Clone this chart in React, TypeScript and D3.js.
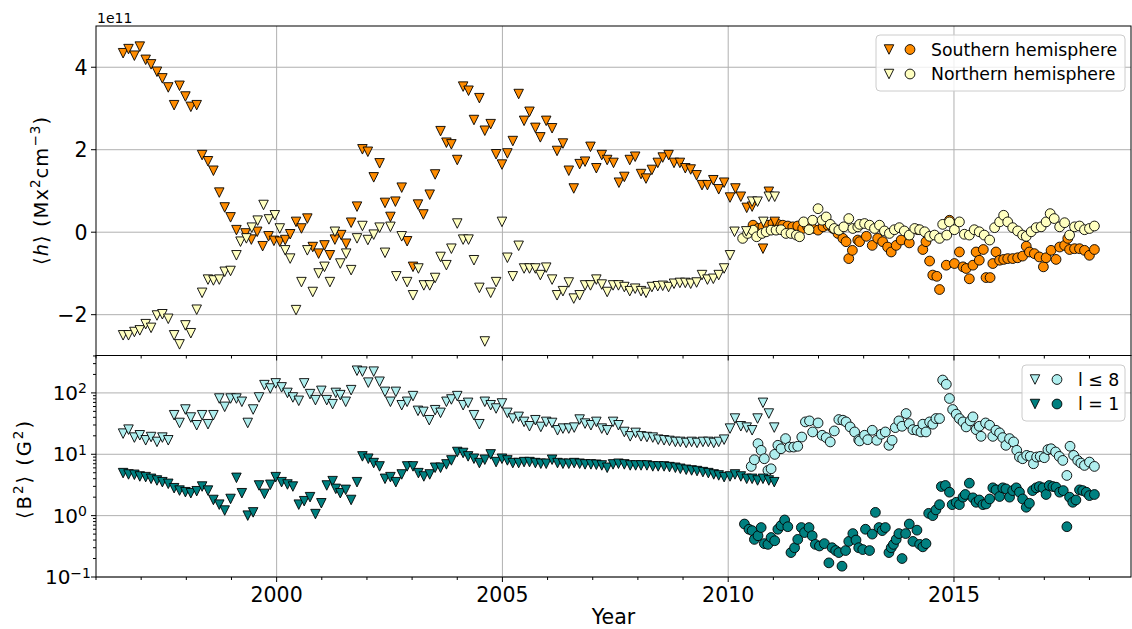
import React from "react";
import * as d3 from "d3";

// top panel: helicity (units of 1e11), bottom panel: B^2 (G^2)
const southTri: [number, number][] = [
  [1996.6, 4.34], [1996.72, 4.44], [1996.85, 4.28], [1996.97, 4.5], [1997.1, 4.18], [1997.22, 4.07],
  [1997.35, 3.89], [1997.47, 3.73], [1997.6, 3.51], [1997.73, 3.08], [1997.85, 3.55], [1997.98, 3.29],
  [1998.1, 3.04], [1998.23, 3.08], [1998.35, 1.87], [1998.48, 1.72], [1998.6, 1.49], [1998.73, 0.96],
  [1998.85, 0.6], [1998.98, 0.36], [1999.11, 0.05], [1999.31, -0.03], [1999.44, -0.18], [1999.57, 0.01],
  [1999.69, -0.34], [1999.82, -0.1], [1999.94, -0.21], [2000.07, -0.23], [2000.19, -0.19], [2000.3, -0.05],
  [2000.43, 0.25], [2000.55, 0.09], [2000.68, 0.33], [2000.8, -0.36], [2000.93, -0.52], [2001.06, -0.32],
  [2001.18, -0.56], [2001.29, -0.18], [2001.43, -0.07], [2001.54, -0.28], [2001.65, 0.23], [2001.78, 0.62],
  [2001.9, 2.01], [2002.02, 1.95], [2002.15, 1.33], [2002.28, 1.67], [2002.4, 0.71], [2002.52, 0.37],
  [2002.63, 0.74], [2002.77, 1.08], [2002.89, -0.22], [2003.02, -0.84], [2003.13, 0.67], [2003.25, 0.43],
  [2003.39, 0.91], [2003.51, 1.4], [2003.63, 2.45], [2003.76, 2.17], [2003.87, 2.13], [2004.0, 1.75],
  [2004.13, 3.53], [2004.25, 3.43], [2004.37, 2.72], [2004.49, 3.25], [2004.61, 2.46], [2004.74, 2.62],
  [2004.86, 1.89], [2004.99, 1.64], [2005.11, 1.91], [2005.23, 2.21], [2005.36, 3.35], [2005.48, 2.7],
  [2005.6, 2.92], [2005.73, 2.53], [2005.84, 2.3], [2005.97, 2.7], [2006.1, 2.52], [2006.21, 1.97],
  [2006.34, 2.15], [2006.47, 1.49], [2006.58, 1.06], [2006.71, 1.65], [2006.83, 1.71], [2006.95, 2.07],
  [2007.08, 1.55], [2007.2, 1.87], [2007.32, 1.75], [2007.46, 1.68], [2007.58, 1.2], [2007.7, 1.34],
  [2007.82, 1.75], [2007.94, 1.83], [2008.07, 1.41], [2008.18, 1.3], [2008.31, 1.51], [2008.44, 1.68],
  [2008.55, 1.81], [2008.68, 1.87], [2008.8, 1.68], [2008.93, 1.68], [2009.05, 1.55], [2009.17, 1.52],
  [2009.3, 1.38], [2009.42, 1.14], [2009.54, 1.14], [2009.67, 1.26], [2009.79, 1.04], [2009.91, 1.2],
  [2010.04, 0.84], [2010.16, 1.06], [2010.28, 0.86], [2010.41, 0.59], [2010.53, 0.62], [2010.77, -0.4],
  [2010.9, 0.98], [2011.03, 0.25],
];

const northTri: [number, number][] = [
  [1996.6, -2.5], [1996.72, -2.5], [1996.85, -2.42], [1996.97, -2.38], [1997.1, -2.23], [1997.22, -2.32],
  [1997.35, -2.02], [1997.47, -1.99], [1997.6, -2.1], [1997.73, -2.5], [1997.85, -2.72], [1997.98, -2.26],
  [1998.1, -2.45], [1998.23, -1.88], [1998.35, -1.47], [1998.48, -1.15], [1998.6, -1.17], [1998.73, -1.15],
  [1998.85, -0.96], [1998.98, -0.94], [1999.11, -0.56], [1999.2, -0.23], [1999.33, -0.15], [1999.45, 0.11],
  [1999.58, 0.28], [1999.71, 0.66], [1999.83, 0.31], [1999.96, 0.41], [2000.07, 0.09], [2000.19, -0.44],
  [2000.3, -0.64], [2000.43, -1.89], [2000.55, -1.21], [2000.68, -0.44], [2000.8, -1.45], [2000.93, -1.0],
  [2001.06, -0.84], [2001.18, -1.21], [2001.29, 0.01], [2001.41, -0.76], [2001.54, -0.52], [2001.65, -0.92],
  [2001.78, -0.15], [2001.9, 0.15], [2002.02, -0.19], [2002.15, -0.06], [2002.28, 0.11], [2002.4, -0.5],
  [2002.52, 0.13], [2002.65, -1.07], [2002.77, -0.1], [2002.89, -1.21], [2003.02, -1.53], [2003.14, -0.88],
  [2003.26, -1.29], [2003.39, -1.29], [2003.51, -1.11], [2003.63, -0.6], [2003.76, -0.8], [2003.87, -0.4],
  [2004.0, 0.21], [2004.13, -0.18], [2004.25, -0.18], [2004.37, -0.68], [2004.49, -1.35], [2004.61, -2.65],
  [2004.74, -1.47], [2004.86, -1.21], [2004.99, 0.25], [2005.11, -0.62], [2005.23, -1.07], [2005.36, -0.33],
  [2005.48, -0.88], [2005.6, -0.88], [2005.73, -0.88], [2005.84, -1.04], [2005.97, -0.86], [2006.1, -1.15],
  [2006.21, -1.53], [2006.34, -1.43], [2006.47, -1.22], [2006.58, -1.61], [2006.71, -1.53], [2006.83, -1.29],
  [2006.95, -1.29], [2007.08, -1.15], [2007.2, -1.27], [2007.32, -1.45], [2007.45, -1.29], [2007.57, -1.29],
  [2007.7, -1.33], [2007.82, -1.43], [2007.94, -1.37], [2008.07, -1.43], [2008.18, -1.47], [2008.31, -1.33],
  [2008.44, -1.31], [2008.55, -1.3], [2008.68, -1.33], [2008.8, -1.25], [2008.93, -1.23], [2009.05, -1.23],
  [2009.17, -1.25], [2009.3, -1.22], [2009.42, -1.04], [2009.54, -1.15], [2009.67, -1.13], [2009.79, -1.04],
  [2009.91, -0.88], [2010.04, -0.56], [2010.14, 0.01], [2010.4, 0.02], [2010.53, 0.74], [2010.65, 0.74],
  [2010.78, 0.25], [2010.9, 0.86], [2011.03, 0.86],
];

const southCirc: [number, number][] = [
  [2010.55, 0.17], [2010.66, 0.09], [2010.77, 0.13], [2010.88, 0.17], [2010.99, 0.21], [2011.1, 0.19],
  [2011.21, 0.17], [2011.32, 0.15], [2011.43, 0.13], [2011.54, 0.15], [2011.65, 0.09], [2011.76, 0.13],
  [2011.87, 0.09], [2011.99, 0.05], [2012.1, 0.13], [2012.21, 0.17], [2012.32, 0.09], [2012.43, -0.03],
  [2012.54, -0.15], [2012.61, -0.23], [2012.67, -0.64], [2012.75, -0.44], [2012.87, -0.19], [2012.91, -0.23],
  [2013.06, -0.1], [2013.19, -0.32], [2013.31, -0.15], [2013.42, -0.23], [2013.53, -0.36], [2013.61, -0.48],
  [2013.72, -0.32], [2013.83, -0.19], [2014.01, -0.26], [2014.2, 0.06], [2014.31, -0.42], [2014.38, -0.23],
  [2014.46, -0.7], [2014.53, -1.04], [2014.62, -1.07], [2014.68, -1.39], [2014.83, -0.8], [2014.9, 0.29],
  [2015.01, -0.76], [2015.12, -0.48], [2015.2, -0.84], [2015.27, -0.88], [2015.34, -1.13], [2015.42, -0.8],
  [2015.49, -0.48], [2015.56, -0.68], [2015.65, -0.42], [2015.71, -1.1], [2015.8, -1.1], [2015.86, -0.76],
  [2015.93, -0.48], [2016.01, -0.68], [2016.1, -0.66], [2016.19, -0.64], [2016.3, -0.64], [2016.41, -0.62],
  [2016.52, -0.58], [2016.6, -0.34], [2016.67, -0.48], [2016.78, -0.52], [2016.89, -0.6], [2016.98, -0.84],
  [2017.04, -0.62], [2017.15, -0.44], [2017.26, -0.66], [2017.34, -0.36], [2017.45, -0.32], [2017.52, -0.15],
  [2017.56, -0.42], [2017.67, -0.4], [2017.78, -0.4], [2017.89, -0.44], [2018.0, -0.56], [2018.11, -0.42],
];

const northCirc: [number, number][] = [
  [2010.32, -0.15], [2010.43, -0.03], [2010.55, 0.05], [2010.63, -0.11], [2010.75, -0.03], [2010.84, 0.01],
  [2010.95, 0.05], [2011.06, 0.05], [2011.17, 0.06], [2011.28, -0.03], [2011.39, -0.03], [2011.51, -0.07],
  [2011.58, -0.11], [2011.67, 0.25], [2011.79, 0.06], [2011.87, 0.29], [2011.99, 0.57], [2012.08, 0.29],
  [2012.17, 0.37], [2012.26, 0.19], [2012.35, 0.09], [2012.45, 0.05], [2012.56, 0.13], [2012.67, 0.33],
  [2012.76, 0.09], [2012.87, 0.13], [2012.91, 0.19], [2013.02, 0.21], [2013.13, 0.17], [2013.24, 0.09],
  [2013.35, 0.17], [2013.46, 0.03], [2013.57, -0.03], [2013.68, 0.06], [2013.79, 0.11], [2013.9, 0.03],
  [2014.01, -0.07], [2014.13, 0.09], [2014.24, 0.06], [2014.35, 0.01], [2014.46, -0.1], [2014.57, -0.07],
  [2014.68, -0.15], [2014.75, 0.19], [2014.84, -0.07], [2014.9, 0.25], [2015.01, 0.06], [2015.12, 0.25],
  [2015.23, -0.05], [2015.34, -0.07], [2015.45, 0.06], [2015.56, 0.01], [2015.67, -0.07], [2015.79, -0.19],
  [2015.9, 0.11], [2016.01, 0.25], [2016.1, 0.41], [2016.19, 0.25], [2016.3, 0.11], [2016.41, 0.03],
  [2016.52, -0.07], [2016.6, -0.1], [2016.71, 0.01], [2016.82, 0.11], [2016.93, 0.13], [2017.04, 0.25],
  [2017.13, 0.45], [2017.22, 0.33], [2017.34, 0.13], [2017.45, 0.23], [2017.56, -0.07], [2017.67, 0.13],
  [2017.78, 0.15], [2017.89, 0.06], [2018.0, 0.09], [2018.11, 0.15],
];

const l8Tri: [number, number][] = [
  [1996.6, 21.7], [1996.72, 25.2], [1996.85, 18.7], [1996.97, 20.4], [1997.1, 16.9], [1997.22, 19.1],
  [1997.35, 15.9], [1997.47, 18.7], [1997.6, 16.9], [1997.73, 43.3], [1997.85, 32.4], [1997.98, 53.6],
  [1998.1, 39.7], [1998.23, 29.7], [1998.35, 43.3], [1998.48, 30.9], [1998.6, 43.3], [1998.73, 81],
  [1998.85, 59.3], [1998.98, 81], [1999.11, 81], [1999.23, 71.6], [1999.36, 32.4], [1999.48, 53.6],
  [1999.61, 84.3], [1999.73, 134], [1999.86, 118], [1999.98, 143], [2000.11, 123], [2000.24, 100],
  [2000.36, 84.3], [2000.49, 74.3], [2000.61, 143], [2000.74, 95.6], [2000.86, 76.2], [2000.99, 108],
  [2001.11, 76.2], [2001.24, 65.6], [2001.31, 100], [2001.41, 92], [2001.53, 71.6], [2001.65, 111],
  [2001.78, 230], [2001.9, 222], [2002.03, 147], [2002.15, 222], [2002.28, 152], [2002.4, 104],
  [2002.52, 71.6], [2002.64, 104], [2002.77, 63], [2002.89, 71.6], [2003.02, 88.7], [2003.13, 51],
  [2003.25, 49.1], [2003.38, 35.9], [2003.51, 52.3], [2003.63, 47.3], [2003.76, 71.6], [2003.87, 78.2],
  [2004.0, 88.7], [2004.13, 63], [2004.24, 68.9], [2004.37, 43.3], [2004.49, 30.9], [2004.61, 71.6],
  [2004.74, 63], [2004.86, 55.7], [2004.99, 67.3], [2005.11, 47.3], [2005.23, 38.2], [2005.36, 40.7],
  [2005.48, 33.7], [2005.6, 28.6], [2005.73, 35.9], [2005.85, 27.9], [2005.97, 33.7], [2006.1, 32.4],
  [2006.22, 24.6], [2006.34, 26.2], [2006.47, 26.2], [2006.59, 27.2], [2006.71, 36.8], [2006.83, 31.6],
  [2006.96, 29.7], [2007.08, 33.7], [2007.2, 26.2], [2007.32, 24.6], [2007.45, 33.7], [2007.57, 29.7],
  [2007.7, 23.1], [2007.83, 19.6], [2007.95, 22.3], [2008.07, 19.6], [2008.2, 19.1], [2008.33, 18.7],
  [2008.45, 17.3], [2008.58, 16.9], [2008.7, 16.5], [2008.83, 15.9], [2008.94, 15.9], [2009.07, 15.3],
  [2009.19, 15.9], [2009.31, 15.3], [2009.44, 15.9], [2009.56, 15.9], [2009.68, 15.3], [2009.79, 15.9],
  [2009.91, 17.3], [2010.04, 26.2], [2010.15, 38.2], [2010.28, 28.6], [2010.41, 27.2], [2010.53, 24.6],
  [2010.65, 38.2], [2010.77, 68.9], [2010.9, 46.1], [2011.02, 27.2],
];

const l1Tri: [number, number][] = [
  [1996.6, 4.93], [1996.72, 4.69], [1996.85, 4.63], [1996.97, 4.35], [1997.1, 4.24], [1997.22, 3.98],
  [1997.35, 3.74], [1997.47, 3.51], [1997.6, 3.3], [1997.73, 2.8], [1997.85, 2.56], [1997.98, 2.41],
  [1998.1, 2.32], [1998.23, 2.5], [1998.35, 2.98], [1998.48, 2.56], [1998.6, 1.8], [1998.73, 1.51],
  [1998.85, 1.21], [1998.98, 1.87], [1999.11, 4.13], [1999.23, 2.32], [1999.36, 1.0], [1999.48, 1.13],
  [1999.61, 3.1], [1999.73, 2.26], [1999.86, 3.18], [1999.98, 4.24], [2000.11, 3.51], [2000.24, 3.22],
  [2000.36, 2.98], [2000.49, 1.51], [2000.61, 1.72], [2000.74, 2.0], [2000.86, 1.06], [2000.99, 1.59],
  [2001.11, 3.1], [2001.24, 3.65], [2001.31, 2.73], [2001.41, 2.32], [2001.53, 2.63], [2001.65, 1.8],
  [2001.78, 3.51], [2001.9, 9.24], [2002.03, 8.46], [2002.15, 7.19], [2002.28, 6.34], [2002.4, 3.98],
  [2002.52, 4.24], [2002.64, 3.51], [2002.77, 4.69], [2002.89, 6.34], [2003.02, 6.34], [2003.14, 4.93],
  [2003.26, 4.35], [2003.39, 4.69], [2003.51, 6.03], [2003.63, 6.03], [2003.76, 6.84], [2003.87, 7.94],
  [2004.0, 10.9], [2004.13, 10.5], [2004.24, 9.24], [2004.37, 8.46], [2004.49, 7.19], [2004.61, 8.15],
  [2004.74, 9.96], [2004.86, 7.46], [2004.99, 8.46], [2005.11, 7.94], [2005.23, 7.19], [2005.36, 7.19],
  [2005.48, 7.46], [2005.6, 7.46], [2005.73, 7.19], [2005.85, 7.01], [2005.97, 7.01], [2006.1, 8.15],
  [2006.22, 7.19], [2006.34, 7.01], [2006.47, 7.01], [2006.59, 7.19], [2006.71, 7.01], [2006.83, 6.84],
  [2006.96, 6.84], [2007.08, 6.75], [2007.2, 6.58], [2007.32, 6.03], [2007.45, 6.84], [2007.57, 7.01],
  [2007.7, 6.84], [2007.83, 6.58], [2007.95, 6.58], [2008.07, 6.58], [2008.2, 6.58], [2008.33, 6.34],
  [2008.45, 6.34], [2008.58, 6.34], [2008.7, 6.18], [2008.83, 6.03], [2008.94, 5.8], [2009.07, 5.59],
  [2009.19, 5.45], [2009.31, 5.32], [2009.44, 5.12], [2009.56, 4.93], [2009.68, 4.69], [2009.79, 4.52],
  [2009.91, 4.24], [2010.04, 4.35], [2010.15, 4.69], [2010.28, 4.35], [2010.41, 3.98], [2010.53, 3.98],
  [2010.65, 3.74], [2010.77, 3.98], [2010.9, 3.74], [2011.02, 3.51],
];

const l8Circ: [number, number][] = [
  [2010.51, 6.34], [2010.58, 8.15], [2010.66, 14.9], [2010.73, 11.6], [2010.8, 8.46], [2010.88, 5.45],
  [2010.95, 5.8], [2011.03, 9.96], [2011.1, 14.0], [2011.17, 12.3], [2011.27, 18.0], [2011.36, 13.1],
  [2011.45, 13.1], [2011.54, 13.5], [2011.63, 19.1], [2011.71, 33.7], [2011.8, 35], [2011.87, 23.1],
  [2011.99, 32.4], [2012.08, 20.4], [2012.17, 18.7], [2012.26, 15.9], [2012.35, 24], [2012.45, 36.8],
  [2012.54, 35.9], [2012.61, 33.7], [2012.7, 27.9], [2012.8, 23.1], [2012.89, 17.3], [2012.91, 16.5],
  [2013.02, 20.4], [2013.09, 17.3], [2013.19, 24.6], [2013.29, 16.9], [2013.39, 21.2], [2013.48, 23.1],
  [2013.56, 14.0], [2013.63, 16.9], [2013.7, 27.2], [2013.78, 35], [2013.85, 28.6], [2013.94, 46.1],
  [2014.01, 31.6], [2014.09, 25.2], [2014.18, 24.6], [2014.27, 23.1], [2014.31, 30.9], [2014.38, 23.1],
  [2014.46, 33.7], [2014.53, 30.9], [2014.6, 38.2], [2014.68, 38.2], [2014.75, 162], [2014.83, 138],
  [2014.9, 81.1], [2014.97, 53.6], [2015.05, 45], [2015.12, 38.2], [2015.2, 33.7], [2015.27, 27.9],
  [2015.36, 35], [2015.42, 40.7], [2015.49, 25.2], [2015.56, 28.6], [2015.6, 19.6], [2015.7, 32.4],
  [2015.79, 29.7], [2015.86, 19.6], [2015.93, 24.6], [2016.01, 22.3], [2016.08, 18.7], [2016.15, 14.0],
  [2016.23, 18.0], [2016.32, 15.9], [2016.39, 11.6], [2016.45, 9.01], [2016.52, 8.46], [2016.61, 9.59],
  [2016.69, 9.24], [2016.76, 7.01], [2016.83, 9.01], [2016.91, 9.24], [2017.0, 8.79], [2017.08, 11.9],
  [2017.15, 12.3], [2017.25, 10.9], [2017.33, 9.24], [2017.41, 7.94], [2017.5, 4.52], [2017.57, 13.5],
  [2017.65, 9.59], [2017.74, 7.94], [2017.81, 7.19], [2017.89, 6.58], [2018.0, 7.46], [2018.11, 6.34],
];

const l1Circ: [number, number][] = [
  [2010.36, 0.73], [2010.46, 0.6], [2010.53, 0.57], [2010.58, 0.41], [2010.66, 0.47], [2010.73, 0.64],
  [2010.8, 0.35], [2010.88, 0.34], [2010.95, 0.44], [2011.03, 0.39], [2011.1, 0.6], [2011.17, 0.69],
  [2011.25, 0.85], [2011.32, 0.66], [2011.39, 0.25], [2011.47, 0.3], [2011.54, 0.41], [2011.62, 0.64],
  [2011.69, 0.53], [2011.79, 0.64], [2011.86, 0.47], [2011.93, 0.34], [2012.02, 0.32], [2012.13, 0.35],
  [2012.23, 0.17], [2012.3, 0.3], [2012.38, 0.27], [2012.45, 0.25], [2012.52, 0.15], [2012.6, 0.27],
  [2012.67, 0.38], [2012.76, 0.51], [2012.83, 0.4], [2012.89, 0.3], [2012.98, 0.28], [2013.04, 0.6],
  [2013.13, 0.27], [2013.19, 0.5], [2013.26, 1.13], [2013.34, 0.64], [2013.41, 0.57], [2013.48, 0.64],
  [2013.56, 0.25], [2013.61, 0.3], [2013.66, 0.34], [2013.72, 0.41], [2013.78, 0.51], [2013.85, 0.2],
  [2013.93, 0.51], [2014.01, 0.73], [2014.09, 0.38], [2014.18, 0.58], [2014.24, 0.34], [2014.31, 0.31],
  [2014.38, 0.35], [2014.44, 1.09], [2014.53, 1.0], [2014.6, 1.24], [2014.68, 1.51], [2014.72, 2.98],
  [2014.81, 3.1], [2014.9, 2.41], [2014.96, 1.51], [2015.05, 1.65], [2015.12, 1.51], [2015.2, 2.0],
  [2015.25, 2.21], [2015.34, 3.38], [2015.42, 1.95], [2015.49, 1.65], [2015.56, 1.8], [2015.64, 1.51],
  [2015.71, 1.55], [2015.79, 1.87], [2015.86, 2.84], [2015.93, 2.63], [2016.01, 2.05], [2016.08, 2.84],
  [2016.15, 2.73], [2016.23, 2.0], [2016.3, 2.56], [2016.38, 2.84], [2016.45, 2.41], [2016.52, 1.87],
  [2016.6, 1.37], [2016.67, 1.59], [2016.74, 2.56], [2016.82, 2.84], [2016.89, 2.98], [2016.97, 2.84],
  [2017.04, 2.21], [2017.11, 3.1], [2017.19, 2.98], [2017.26, 2.91], [2017.34, 2.41], [2017.42, 2.56],
  [2017.5, 0.66], [2017.56, 2.0], [2017.63, 1.65], [2017.7, 1.8], [2017.78, 2.63], [2017.85, 2.56],
  [2017.93, 2.41], [2018.0, 2.12], [2018.11, 2.21],
];

const yearTicks = [2000, 2005, 2010, 2015];
const topTicks = [-2, 0, 2, 4];
const logTicks = [-1, 0, 1, 2];

const ORANGE = "#ff8c00";
const YELLOW = "#ffffc0";
const LIGHT = "#afeeee";
const TEAL = "#008080";
const FONT = "DejaVu Sans, sans-serif";

const W = 1132, H = 629;
const L = 96, R = 1131;
const T1 = 26, B1 = 355.5, B2 = 577;

const tri = (cx: number, cy: number, h = 4.75) =>
  `M${cx - h},${cy - h}L${cx + h},${cy - h}L${cx},${cy + h}Z`;

const minus = (n: number) => (n < 0 ? "\u2212" + Math.abs(n) : String(n));

export default function App() {
  const x = d3.scaleLinear().domain([1996.0, 2018.92]).range([L, R]);
  const yTop = d3.scaleLinear().domain([-2.99, 5.0]).range([B1, T1]);
  const yBot = d3.scaleLog().domain([0.1, 407]).range([B2, B1]);

  const minorYears = d3.range(1996, 2019).filter((y) => y % 5 !== 0);
  const minorLog: number[] = [];
  logTicks.forEach((e) => {
    for (let k = 2; k <= 9; k++) {
      const v = k * Math.pow(10, e);
      if (v < 407) minorLog.push(v);
    }
  });

  const triMarks = (data: [number, number][], y: (v: number) => number, fill: string, key: string) =>
    data.map((d, i) => (
      <path key={key + i} d={tri(x(d[0]), y(d[1]))} fill={fill} stroke="#000" strokeWidth={0.9} />
    ));
  const circMarks = (data: [number, number][], y: (v: number) => number, fill: string, key: string) =>
    data.map((d, i) => (
      <circle key={key + i} cx={x(d[0])} cy={y(d[1])} r={4.9} fill={fill} stroke="#000" strokeWidth={0.9} />
    ));

  return (
    <svg
      width={W}
      height={H}
      style={{ position: "absolute", left: 0, top: 0, background: "#fff" }}
      fontFamily={FONT}
    >
      <rect x={0} y={0} width={W} height={H} fill="#fff" />
      <defs>
        <clipPath id="clipTop">
          <rect x={L} y={T1} width={R - L} height={B1 - T1} />
        </clipPath>
        <clipPath id="clipBot">
          <rect x={L} y={B1} width={R - L} height={B2 - B1} />
        </clipPath>
      </defs>

      {/* grids */}
      <g stroke="#b0b0b0" strokeWidth={1}>
        {yearTicks.map((t) => (
          <line key={"gx" + t} x1={x(t)} x2={x(t)} y1={T1} y2={B2} />
        ))}
        {topTicks.map((t) => (
          <line key={"gt" + t} x1={L} x2={R} y1={yTop(t)} y2={yTop(t)} />
        ))}
        {logTicks.map((e) => (
          <line key={"gb" + e} x1={L} x2={R} y1={yBot(Math.pow(10, e))} y2={yBot(Math.pow(10, e))} />
        ))}
      </g>

      {/* top panel */}
      <g clipPath="url(#clipTop)">
        {circMarks(southCirc, yTop, ORANGE, "sc")}
        {circMarks(northCirc, yTop, YELLOW, "nc")}
        {triMarks(southTri, yTop, ORANGE, "st")}
        {triMarks(northTri, yTop, YELLOW, "nt")}
      </g>

      {/* bottom panel */}
      <g clipPath="url(#clipBot)">
        {circMarks(l8Circ, yBot, LIGHT, "lc")}
        {circMarks(l1Circ, yBot, TEAL, "dc")}
        {triMarks(l8Tri, yBot, LIGHT, "lt")}
        {triMarks(l1Tri, yBot, TEAL, "dt")}
      </g>

      {/* spines */}
      <rect x={L} y={T1} width={R - L} height={B1 - T1} fill="none" stroke="#000" strokeWidth={1} />
      <rect x={L} y={B1} width={R - L} height={B2 - B1} fill="none" stroke="#000" strokeWidth={1} />

      {/* ticks */}
      <g stroke="#000" strokeWidth={1}>
        {yearTicks.map((t) => (
          <React.Fragment key={"xt" + t}>
            <line x1={x(t)} x2={x(t)} y1={B1} y2={B1 + 5} />
            <line x1={x(t)} x2={x(t)} y1={B2} y2={B2 + 5} />
          </React.Fragment>
        ))}
        {minorYears.map((t) => (
          <React.Fragment key={"xm" + t}>
            <line x1={x(t)} x2={x(t)} y1={B1} y2={B1 + 3} />
            <line x1={x(t)} x2={x(t)} y1={B2} y2={B2 + 3} />
          </React.Fragment>
        ))}
        {topTicks.map((t) => (
          <line key={"yt" + t} x1={L - 5} x2={L} y1={yTop(t)} y2={yTop(t)} />
        ))}
        {logTicks.map((e) => (
          <line key={"yb" + e} x1={L - 5} x2={L} y1={yBot(Math.pow(10, e))} y2={yBot(Math.pow(10, e))} />
        ))}
        {minorLog.map((v) => (
          <line key={"ym" + v} x1={L - 3} x2={L} y1={yBot(v)} y2={yBot(v)} />
        ))}
      </g>

      {/* tick labels */}
      <g fill="#000">
        {yearTicks.map((t) => (
          <text key={"xl" + t} x={x(t)} y={601.5} fontSize={20.5} textAnchor="middle">
            {t}
          </text>
        ))}
        {topTicks.map((t) => (
          <text key={"tl" + t} x={87.5} y={yTop(t) + 7.5} fontSize={20.5} textAnchor="end">
            {minus(t)}
          </text>
        ))}
        {logTicks.map((e) => (
          <text key={"bl" + e} x={e < 0 ? 91 : 87} y={yBot(Math.pow(10, e)) + 7} fontSize={20} textAnchor="end">
            10
            <tspan fontSize={14} dy={-6.5}>
              {minus(e)}
            </tspan>
          </text>
        ))}
      </g>
      <text x={L + 1} y={22.5} fontSize={14}>
        1e11
      </text>

      {/* axis labels */}
      <text x={(L + R) / 2} y={623.5} fontSize={20.5} textAnchor="middle">
        Year
      </text>
      <text
        transform={`translate(47.5,191) rotate(-90)`}
        fontSize={19.5}
        textAnchor="middle"
        textLength={148}
        lengthAdjust="spacing"
      >
        ⟨<tspan fontStyle="italic">h</tspan>⟩ (Mx
        <tspan fontSize={13.5} dy={-7.5}>2</tspan>
        <tspan dy={7.5}>cm</tspan>
        <tspan fontSize={13.5} dy={-7.5}>−3</tspan>
        <tspan dy={7.5}>)</tspan>
      </text>
      <text
        transform={`translate(30.5,470) rotate(-90)`}
        fontSize={19.5}
        textAnchor="middle"
        textLength={98}
        lengthAdjust="spacing"
      >
        ⟨B<tspan fontSize={13.5} dy={-7.5}>2</tspan>
        <tspan dy={7.5}>⟩ (G</tspan>
        <tspan fontSize={13.5} dy={-7.5}>2</tspan>
        <tspan dy={7.5}>)</tspan>
      </text>

      {/* legend top */}
      <g>
        <rect x={876} y={35} width={249} height={56} rx={4} fill="#fff" fillOpacity={0.8} stroke="#cccccc" />
        <path d={tri(889, 49.5)} fill={ORANGE} stroke="#000" strokeWidth={0.9} />
        <circle cx={910} cy={49.5} r={4.9} fill={ORANGE} stroke="#000" strokeWidth={0.9} />
        <text x={931} y={55.5} fontSize={17.3}>Southern hemisphere</text>
        <path d={tri(889, 74)} fill={YELLOW} stroke="#000" strokeWidth={0.9} />
        <circle cx={910} cy={74} r={4.9} fill={YELLOW} stroke="#000" strokeWidth={0.9} />
        <text x={931} y={80} fontSize={17.3}>Northern hemisphere</text>
      </g>

      {/* legend bottom */}
      <g>
        <rect x={1022} y={365} width={103} height={56} rx={4} fill="#fff" fillOpacity={0.8} stroke="#cccccc" />
        <path d={tri(1035, 379.5)} fill={LIGHT} stroke="#000" strokeWidth={0.9} />
        <circle cx={1057} cy={379.5} r={4.9} fill={LIGHT} stroke="#000" strokeWidth={0.9} />
        <text x={1078} y={385.5} fontSize={17.3}>l ≤ 8</text>
        <path d={tri(1035, 404)} fill={TEAL} stroke="#000" strokeWidth={0.9} />
        <circle cx={1057} cy={404} r={4.9} fill={TEAL} stroke="#000" strokeWidth={0.9} />
        <text x={1078} y={410} fontSize={17.3}>l = 1</text>
      </g>
    </svg>
  );
}
